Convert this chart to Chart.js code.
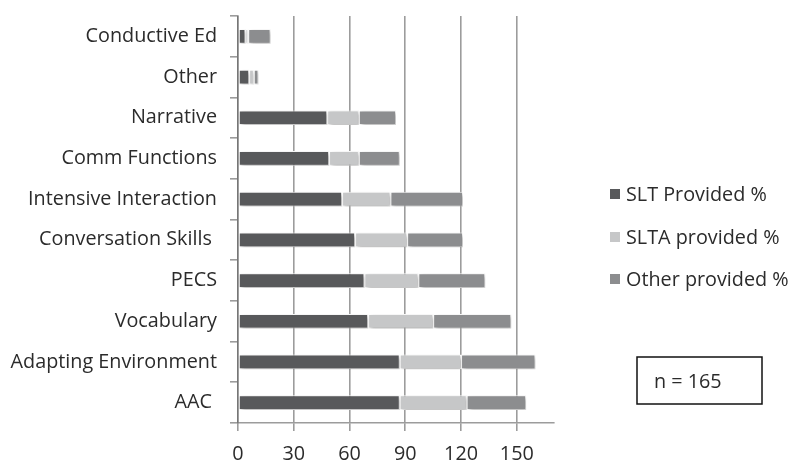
<!DOCTYPE html>
<html>
<head>
<meta charset="utf-8">
<script src="https://cdn.jsdelivr.net/npm/chart.js@4/dist/chart.umd.min.js"></script>
<style>
  html, body { margin: 0; padding: 0; background: #ffffff; }
  #wrap { width: 791px; height: 461px; position: relative; }
</style>
</head>
<body>
<div id="wrap"><canvas id="c" width="791" height="461"></canvas></div>
<script>
// Intervention categories, listed top to bottom
const categories = [
  'Conductive Ed', 'Other', 'Narrative', 'Comm Functions', 'Intensive Interaction',
  'Conversation Skills ', 'PECS', 'Vocabulary', 'Adapting Environment', 'AAC '
];
// Share of respondents by who provides each intervention
const sltProvided   = [4, 6, 48, 49, 56, 63, 68, 70, 87, 87];
const sltaProvided  = [1.5, 2.5, 17, 16, 26, 28, 29, 35, 33, 36];
const otherProvided = [12, 2.5, 20, 22, 39, 30, 36, 42, 40, 32];
const seriesNames = ['SLT Provided %', 'SLTA provided %', 'Other provided %'];
const xTickValues = [0, 30, 60, 90, 120, 150];
const sampleNote = 'n = 165';

const FONT = '"Open Sans", Lato, sans-serif';
const FSIZE = 19.8;
const TEXT = '#2b2b2b';
const GRID = 'rgba(95,95,95,0.62)';
const colors = ['#58595b', '#c6c7c8', '#8c8d8f'];

// Soft drop shadow under the bars
const barShadow = {
  id: 'barShadow',
  beforeDatasetsDraw(chart) {
    const ctx = chart.ctx;
    ctx.save();
    ctx.shadowColor = 'rgba(0,0,0,0.30)';
    ctx.shadowBlur = 4;
    ctx.shadowOffsetX = 2;
    ctx.shadowOffsetY = 2;
  },
  afterDatasetsDraw(chart) {
    chart.ctx.restore();
  }
};

// Legend at the right plus the sample-size box
const sideNotes = {
  id: 'sideNotes',
  afterDraw(chart) {
    const ctx = chart.ctx;
    ctx.save();
    const rows = [194, 237, 279];
    chart.data.datasets.forEach((ds, i) => {
      ctx.fillStyle = ds.backgroundColor;
      ctx.fillRect(610, rows[i] - 5, 10, 10);
      ctx.fillStyle = TEXT;
      ctx.font = FSIZE + 'px ' + FONT;
      ctx.textAlign = 'left';
      ctx.textBaseline = 'middle';
      ctx.fillText(ds.label, 626, rows[i] + 1);
    });
    ctx.strokeStyle = '#111';
    ctx.lineWidth = 1.5;
    ctx.strokeRect(637, 357, 125, 47);
    ctx.fillStyle = TEXT;
    ctx.font = FSIZE + 'px ' + FONT;
    ctx.textAlign = 'left';
    ctx.textBaseline = 'middle';
    ctx.fillText(sampleNote, 654, 382);
    ctx.restore();
  }
};

const makeSet = (label, data, i) => ({
  label, data,
  backgroundColor: colors[i],
  borderColor: '#ffffff',
  borderWidth: 1,
  borderSkipped: false,
  categoryPercentage: 1,
  barPercentage: 0.36
});

new Chart(document.getElementById('c'), {
  type: 'bar',
  data: {
    labels: categories,
    datasets: [
      makeSet(seriesNames[0], sltProvided, 0),
      makeSet(seriesNames[1], sltaProvided, 1),
      makeSet(seriesNames[2], otherProvided, 2)
    ]
  },
  options: {
    indexAxis: 'y',
    responsive: false,
    animation: false,
    layout: { padding: { top: 16, right: 237, bottom: 0, left: 0 } },
    plugins: { legend: { display: false }, tooltip: { enabled: false } },
    scales: {
      x: {
        stacked: true,
        min: 0,
        max: 170,
        z: 1,
        afterBuildTicks(scale) {
          scale.ticks = xTickValues.map(v => ({ value: v })).concat([{ value: 170 }]);
        },
        afterFit(scale) {
          scale.height = 38;
          scale.paddingLeft = 0;
          scale.paddingRight = 0;
        },
        ticks: {
          color: TEXT,
          font: { family: FONT, size: FSIZE },
          padding: 11,
          maxRotation: 0,
          autoSkip: false,
          callback: v => (xTickValues.includes(v) ? String(v) : '')
        },
        grid: {
          color: c => (c.tick && c.tick.value <= 150 ? GRID : 'rgba(0,0,0,0)'),
          lineWidth: 1.6,
          tickLength: 8
        },
        border: { color: GRID, width: 1.6 }
      },
      y: {
        stacked: true,
        afterFit(scale) {
          scale.width = 238;
          scale.paddingTop = 0;
          scale.paddingBottom = 0;
        },
        ticks: {
          color: TEXT,
          font: { family: FONT, size: FSIZE },
          padding: 13,
          autoSkip: false
        },
        grid: {
          drawOnChartArea: false,
          color: GRID,
          lineWidth: 1.6,
          tickLength: 8
        },
        border: { color: GRID, width: 1.6 }
      }
    }
  },
  plugins: [barShadow, sideNotes]
});
</script>
</body>
</html>
